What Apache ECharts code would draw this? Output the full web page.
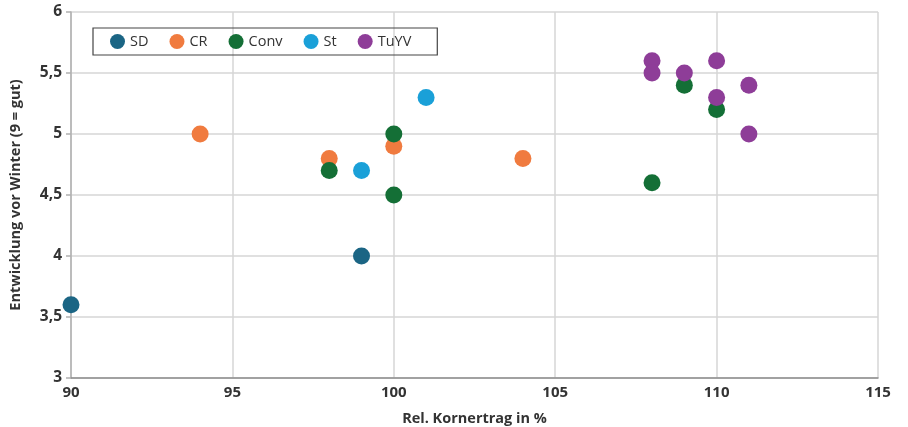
<!DOCTYPE html>
<html><head><meta charset="utf-8">
<script src="https://cdn.jsdelivr.net/npm/echarts@6/dist/echarts.min.js"></script>
<style>html,body{margin:0;padding:0;background:#fff}#c{width:908px;height:427px}</style>
</head><body><div id="c"></div>
<script>
const seriesNames = ['SD','CR','Conv','St','TuYV'];
const colors = ['#1b6584','#f07b3f','#146f36','#1aa0d8','#8e3d98'];
const sdData = [[90,3.6],[99,4.0]];
const crData = [[94,5.0],[98,4.8],[100,4.9],[104,4.8]];
const convData = [[98,4.7],[100,5.0],[100,4.5],[108,4.6],[109,5.4],[110,5.2]];
const stData = [[99,4.7],[101,5.3]];
const tuyvData = [[108,5.6],[108,5.5],[109,5.5],[110,5.6],[110,5.3],[111,5.4],[111,5.0]];
const allData = [sdData,crData,convData,stData,tuyvData];
const xTitle = 'Rel. Kornertrag in %';
const yTitle = 'Entwicklung vor Winter (9 = gut)';
const font = '"Open Sans", "Noto Sans", sans-serif';
const chart = echarts.init(document.getElementById('c'));
chart.setOption({
  animation:false,
  textStyle:{fontFamily:font},
  grid:{left:71,right:30,top:12,bottom:49,outerBoundsMode:'none',containLabel:false},
  legend:{
    left:93, top:28,
    padding:[6,26,6,17],
    borderColor:'#444', borderWidth:1.2, borderRadius:0,
    itemWidth:15, itemHeight:15, itemGap:21,
    icon:'circle',
    data:seriesNames,
    textStyle:{fontFamily:font,fontSize:14.5,color:'#333'}
  },
  xAxis:{
    type:'value', min:90, max:115, interval:5,
    name:xTitle, nameLocation:'middle', nameGap:33,
    nameTextStyle:{fontFamily:font,fontSize:14.5,fontWeight:'bold',color:'#333'},
    axisLine:{show:true,lineStyle:{color:'#8c8c8c',width:1.5}},
    axisTick:{show:false},
    axisLabel:{fontFamily:font,fontSize:15,fontWeight:'bold',color:'#333',margin:7},
    splitLine:{show:true,lineStyle:{color:'#d6d6d6',width:1.5}}
  },
  yAxis:{
    type:'value', min:3, max:6, interval:0.5,
    name:yTitle, nameLocation:'middle', nameGap:48, nameRotate:90,
    nameTextStyle:{fontFamily:font,fontSize:14.5,fontWeight:'bold',color:'#333'},
    axisLine:{show:true,lineStyle:{color:'#b0b0b0',width:1.5}},
    axisTick:{show:true,length:5,lineStyle:{color:'#b0b0b0',width:1.5}},
    axisLabel:{fontFamily:font,fontSize:15.5,fontWeight:'bold',color:'#333',margin:9,
      formatter:v=>String(v).replace('.',',')},
    splitLine:{show:true,lineStyle:{color:'#d6d6d6',width:1.5}}
  },
  series: seriesNames.map((n,i)=>({
    name:n, type:'scatter', data:allData[i], symbolSize:17,
    itemStyle:{color:colors[i],opacity:1}
  }))
});
</script></body></html>
